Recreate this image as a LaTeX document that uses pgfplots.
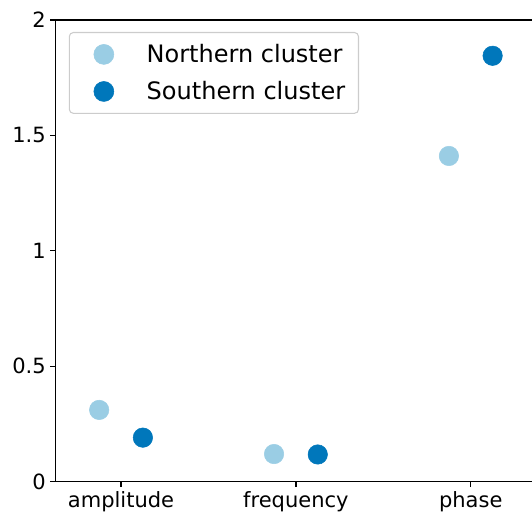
\documentclass[border=0pt]{standalone}
\usepackage{pgfplots}
\pgfplotsset{compat=1.18}
\usepackage{fontspec}
\setmainfont{DejaVu Sans}
\definecolor{north}{HTML}{9ACDE4}
\definecolor{south}{HTML}{0077BB}
\begin{document}
\begin{tikzpicture}
\begin{axis}[
  name=ax,
  scale only axis,
  width=360.15pt, height=346.3pt,
  xmin=-0.373, xmax=2.373,
  ymin=0, ymax=2,
  axis x line*=bottom, axis y line*=left,
  axis line style={-, line width=0.9pt, black},
  xtick={0,1,2},
  xticklabels={amplitude,frequency,phase},
  ytick={0,0.5,1,1.5,2},
  yticklabels={0,0.5,1,1.5,2},
  tick align=outside,
  major tick length=4pt,
  every tick/.style={black, line width=0.9pt},
  tick label style={font=\fontsize{15.75}{18}\selectfont},
  clip=false,
  legend cell align=left,
  legend image code/.code={
    \path (-15.5pt,-13.5pt) (31.75pt,13.5pt);
    \draw[#1, mark size=7.5pt] plot coordinates {(0pt,0pt)};
  },
  legend style={at={(0,1)}, anchor=north west, xshift=9.75pt, yshift=-9pt,
    font=\fontsize{18}{21}\selectfont,
    draw=black!20, line width=0.8pt, rounded corners=3pt,
    inner xsep=10pt, inner ysep=2.5pt,
    nodes={inner sep=0pt}},
]
\addplot[color=north, only marks, mark=*, mark size=7.3pt, mark options={line width=0.4pt}] coordinates {
  (-0.125,0.311) (0.875,0.120) (1.875,1.411)
};
\addlegendentry{Northern cluster}
\addplot[color=south, only marks, mark=*, mark size=7.3pt, mark options={line width=0.4pt}] coordinates {
  (0.125,0.191) (1.125,0.118) (2.125,1.845)
};
\addlegendentry{Southern cluster}
\draw[line width=0.9pt, black] (rel axis cs:0,1) -- (rel axis cs:1,1);
\end{axis}
\pgfresetboundingbox
\path ([shift={(-41.85pt,-23.5pt)}]ax.south west) rectangle ([shift={(-3pt,15pt)}]ax.north east);
\end{tikzpicture}
\end{document}
